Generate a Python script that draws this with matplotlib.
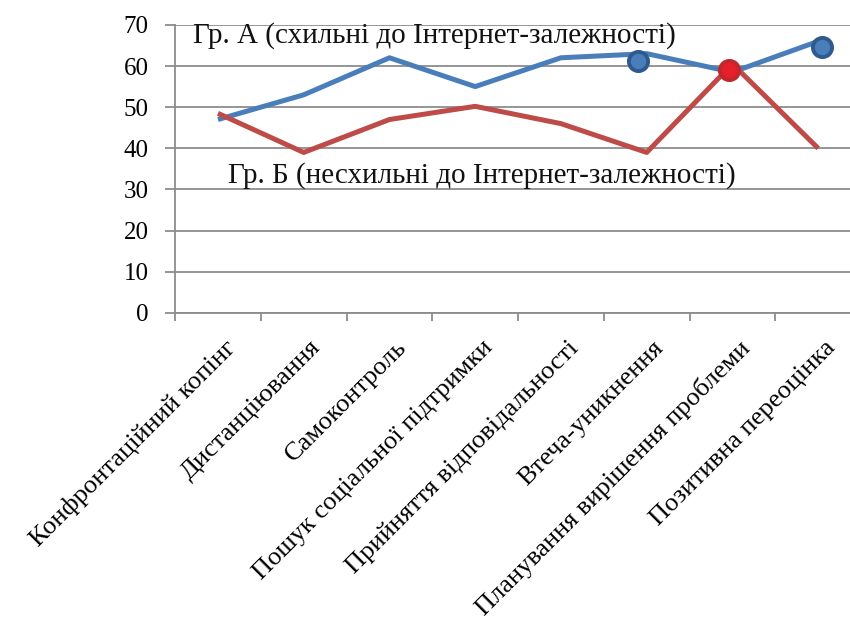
import matplotlib
matplotlib.use("Agg")
import matplotlib.pyplot as plt
import matplotlib.transforms as mtransforms
import numpy as np

plt.rcParams['font.family'] = ['Liberation Serif', 'DejaVu Serif']

categories = ["Конфронтаційний копінг", "Дистанціювання", "Самоконтроль",
              "Пошук соціальної підтримки", "Прийняття відповідальності",
              "Втеча-уникнення", "Планування вирішення проблеми",
              "Позитивна переоцінка"]
group_a = [47, 53, 62, 55, 62, 63, 58.5, 66]
group_b = [48.5, 39, 47, 50.2, 46, 39, 60.5, 40]
label_a = "Гр. А (схильні до Інтернет-залежності)"
label_b = "Гр. Б (несхильні до Інтернет-залежності)"
# extra point markers seen on the chart
marks_a_x = [4.9, 7.05]
marks_a_y = [61.1, 64.5]
marks_b_x = [5.96]
marks_b_y = [59.1]
yticks = [0, 10, 20, 30, 40, 50, 60, 70]

blue = "#4A7EBB"
red = "#BE4B48"
grid_c = "#8C8C8C"

fig = plt.figure(figsize=(8.5, 6.21), dpi=100)
ax = fig.add_axes([0.206, 0.496, 0.807, 0.464])
x = np.arange(len(categories))

ax.set_ylim(0, 70)
ax.set_xlim(-0.5, len(categories) - 0.5)
ax.set_yticks(yticks)
ax.yaxis.grid(True, color=grid_c, linewidth=1.3)
ax.set_axisbelow(True)

ax.plot(x, group_a, color=blue, linewidth=3.6, solid_capstyle='butt', zorder=3)
ax.plot(x, group_b, color=red, linewidth=3.6, solid_capstyle='butt', zorder=3)
ax.scatter(marks_a_x, marks_a_y, s=190, color="#4A7EBB", edgecolor="#2F5A8E",
           linewidth=2.8, zorder=4)
ax.scatter(marks_b_x, marks_b_y, s=190, color="#E5202A", edgecolor="#C0282E",
           linewidth=2.8, zorder=5)

ax.text(-0.29, 67.4, label_a, fontsize=21, va='center', ha='left', color='#111111')
ax.text(0.12, 33.4, label_b, fontsize=21, va='center', ha='left', color='#111111')

for s in ['top', 'right']:
    ax.spines[s].set_visible(False)
ax.spines['left'].set_color(grid_c)
ax.spines['left'].set_linewidth(1.3)
ax.spines['bottom'].set_color(grid_c)
ax.spines['bottom'].set_linewidth(1.3)

ax.set_xticks(x)
ax.set_xticklabels(categories, rotation=45, ha='right', rotation_mode='anchor',
                   fontsize=19)
ax.tick_params(axis='x', which='major', length=0, pad=17)
offset = mtransforms.ScaledTranslation(6 / 100, 0, fig.dpi_scale_trans)
for lbl in ax.get_xticklabels():
    lbl.set_transform(lbl.get_transform() + offset)
ax.set_xticks(np.arange(-0.5, len(categories), 1.0), minor=True)
ax.tick_params(axis='x', which='minor', length=6, width=1.3, color=grid_c)
ax.tick_params(axis='y', length=7, width=1.3, color=grid_c, labelsize=18, pad=12)

fig.savefig("out.png", dpi=100)
